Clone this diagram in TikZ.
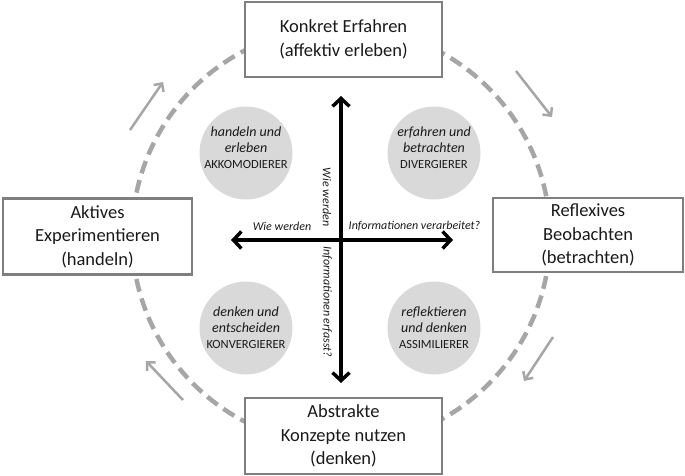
\documentclass[tikz,border=0pt]{standalone}
\usepackage{fontspec}
\setmainfont{Carlito}
\usetikzlibrary{arrows.meta}
\definecolor{boxgray}{HTML}{7F7F7F}
\definecolor{dashgray}{HTML}{A6A6A6}
\definecolor{bubgray}{HTML}{D9D9D9}
\definecolor{txt}{HTML}{1A1A1A}
\newcommand{\capsfont}{\fontsize{12.5}{16}\selectfont}
\begin{document}
\begin{tikzpicture}[x=1pt,y=-1pt,
  phasebox/.style={draw=boxgray, line width=2.5pt, fill=white, align=center, inner sep=0pt, font=\fontsize{18.5}{23.5}\selectfont, text=txt},
  bub/.style={circle, fill=bubgray, minimum size=93pt, inner sep=0pt},
  bubtext/.style={align=center, font=\fontsize{14}{16}\selectfont, text=txt, inner sep=0pt},
  axislabel/.style={font=\fontsize{12}{13}\selectfont\itshape, text=txt, inner sep=0pt},
  bigarrow/.style={line width=3.5pt, {Straight Barb[length=8pt,width=17pt]}-{Straight Barb[length=8pt,width=17pt]}},
  cyclearrow/.style={draw=dashgray, line width=2.5pt, -{Straight Barb[length=6pt,width=12pt]}},
]
\useasboundingbox (0,0) rectangle (685,475);

% dashed cycle
\coordinate (cc) at (341,236);
\draw[dashgray, line width=4.5pt, dash pattern=on 13pt off 7pt] (cc) circle[radius=209pt];

% phase boxes
\node[phasebox, minimum width=197pt, minimum height=75pt] (top) at (343.5,39.5) {Konkret Erfahren\\(affektiv erleben)};
\node[phasebox, minimum width=189pt, minimum height=76pt] (left) at (97.5,236.5) {Aktives\\Experimentieren\\(handeln)};
\node[phasebox, minimum width=190pt, minimum height=74pt] (right) at (588,235) {Reflexives\\Beobachten\\(betrachten)};
\node[phasebox, minimum width=197pt, minimum height=76pt] (bottom) at (343.5,436) {Abstrakte\\Konzepte nutzen\\(denken)};

% bubbles
\node[bub] (c1) at (246,153) {};
\node[bub] (c2) at (434,153) {};
\node[bub] (c3) at (246,328) {};
\node[bub] (c4) at (434,328) {};
\node[bubtext] (t1) at (246,148) {\textit{handeln und}\\\textit{erleben}\\{\capsfont AKKOMODIERER}};
\node[bubtext] (t2) at (434,148) {\textit{erfahren und}\\\textit{betrachten}\\{\capsfont DIVERGIERER}};
\node[bubtext] (t3) at (246,328) {\textit{denken und}\\\textit{entscheiden}\\{\capsfont KONVERGIERER}};
\node[bubtext] (t4) at (434,328) {\textit{reflektieren}\\\textit{und denken}\\{\capsfont ASSIMILIERER}};

% axes
\coordinate (vt) at (341,96);
\coordinate (vb) at (341,383);
\coordinate (hl) at (231,240);
\coordinate (hr) at (453,240);
\draw[bigarrow] (vb) -- (vt);
\draw[bigarrow] (hl) -- (hr);

\node[axislabel] (lh1) at (282,226) {Wie werden};
\node[axislabel] (lh2) at (414.5,226) {Informationen verarbeitet?};
\node[axislabel, rotate=-90] (lv1) at (327,197) {Wie werden};
\node[axislabel, rotate=-90] (lv2) at (327,302) {Informationen erfasst?};

% cycle arrows
\coordinate (a1s) at (130,130); \coordinate (a1e) at (163,82);
\coordinate (a2s) at (516,71);  \coordinate (a2e) at (552,117);
\coordinate (a3s) at (553,337); \coordinate (a3e) at (524,381);
\coordinate (a4s) at (183,400); \coordinate (a4e) at (146,361);
\draw[cyclearrow] (a1s) -- (a1e);
\draw[cyclearrow] (a2s) -- (a2e);
\draw[cyclearrow] (a3s) -- (a3e);
\draw[cyclearrow] (a4s) -- (a4e);
\end{tikzpicture}
\end{document}
